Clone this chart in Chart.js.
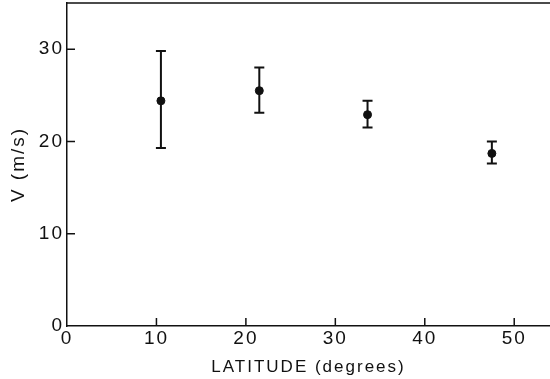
<!DOCTYPE html>
<html>
<head>
<meta charset="utf-8">
<script src="https://cdn.jsdelivr.net/npm/chart.js@4.4.1/dist/chart.umd.min.js"></script>
<style>
  html, body { margin: 0; padding: 0; background: #fff; }
  #wrap { width: 550px; height: 379px; position: relative; }
</style>
</head>
<body>
<div id="wrap"><canvas id="chart"></canvas></div>
<script>
// values
const latitude = [10.5, 21.5, 33.6, 47.5];
const velocity = [24.4, 25.5, 22.9, 18.7];
const errLow = [19.3, 23.1, 21.5, 17.6];
const errHigh = [29.8, 28.0, 24.4, 20.0];
const xTicks = [0, 10, 20, 30, 40, 50];
const yTicks = [0, 10, 20, 30];

const ink = "#111";
const font = "'Liberation Sans', Arial, sans-serif";

// error bars, inward tick marks and the top frame line
const frame = {
  id: "frame",
  beforeLayout(chart) { chart.ctx.letterSpacing = "2px"; },
  beforeDraw(chart) { chart.ctx.letterSpacing = "2px"; },
  afterDatasetsDraw(chart) {
    const { ctx, chartArea: a, scales: { x, y } } = chart;
    ctx.save();
    ctx.strokeStyle = ink;
    ctx.lineWidth = 1.5;
    ctx.beginPath();
    ctx.moveTo(a.left, a.top);
    ctx.lineTo(a.right, a.top);
    xTicks.forEach((v) => {
      if (v === 0) return;
      const px = x.getPixelForValue(v);
      ctx.moveTo(px, a.bottom);
      ctx.lineTo(px, a.bottom - 8);
    });
    yTicks.forEach((v) => {
      if (v === 0) return;
      const py = y.getPixelForValue(v);
      ctx.moveTo(a.left, py);
      ctx.lineTo(a.left + 8, py);
    });
    ctx.stroke();

    ctx.lineWidth = 2;
    ctx.beginPath();
    latitude.forEach((lat, i) => {
      const px = x.getPixelForValue(lat);
      const top = y.getPixelForValue(errHigh[i]);
      const bot = y.getPixelForValue(errLow[i]);
      ctx.moveTo(px, top);
      ctx.lineTo(px, bot);
      ctx.moveTo(px - 5, top);
      ctx.lineTo(px + 5, top);
      ctx.moveTo(px - 5, bot);
      ctx.lineTo(px + 5, bot);
    });
    ctx.stroke();
    ctx.restore();
  }
};

const noPad = (s) => {
  s.paddingTop = 0;
  s.paddingBottom = 0;
  s.paddingLeft = 0;
  s.paddingRight = 0;
};

new Chart(document.getElementById("chart"), {
  type: "scatter",
  data: {
    datasets: [{
      data: latitude.map((lat, i) => ({ x: lat, y: velocity[i] })),
      backgroundColor: ink,
      borderColor: ink,
      pointRadius: 4,
      pointHoverRadius: 4
    }]
  },
  options: {
    responsive: true,
    maintainAspectRatio: false,
    animation: false,
    layout: { autoPadding: false, padding: { top: 3, right: 0, bottom: 0, left: 0 } },
    plugins: { legend: { display: false }, tooltip: { enabled: false } },
    scales: {
      x: {
        type: "linear",
        min: 0,
        max: 54,
        afterBuildTicks: (s) => { s.ticks = xTicks.map((v) => ({ value: v })); },
        afterFit: (s) => { s.height = 53; noPad(s); },
        grid: { display: false, drawTicks: false },
        border: { display: true, color: ink, width: 1.5 },
        ticks: { color: ink, font: { family: font, size: 19 }, padding: 1, maxRotation: 0 },
        title: {
          display: true,
          text: "LATITUDE (degrees)",
          color: ink,
          font: { family: font, size: 17 },
          padding: { top: 0, bottom: 1 }
        }
      },
      y: {
        min: 0,
        max: 35,
        afterBuildTicks: (s) => { s.ticks = yTicks.map((v) => ({ value: v })); },
        afterFit: (s) => { s.width = 67; noPad(s); },
        grid: { display: false, drawTicks: false },
        border: { display: true, color: ink, width: 1.5 },
        ticks: { color: ink, font: { family: font, size: 19 }, padding: 3 },
        title: {
          display: true,
          text: "V (m/s)",
          color: ink,
          font: { family: font, size: 19 },
          padding: { top: 7, bottom: 0 }
        }
      }
    }
  },
  plugins: [frame]
});
</script>
</body>
</html>
